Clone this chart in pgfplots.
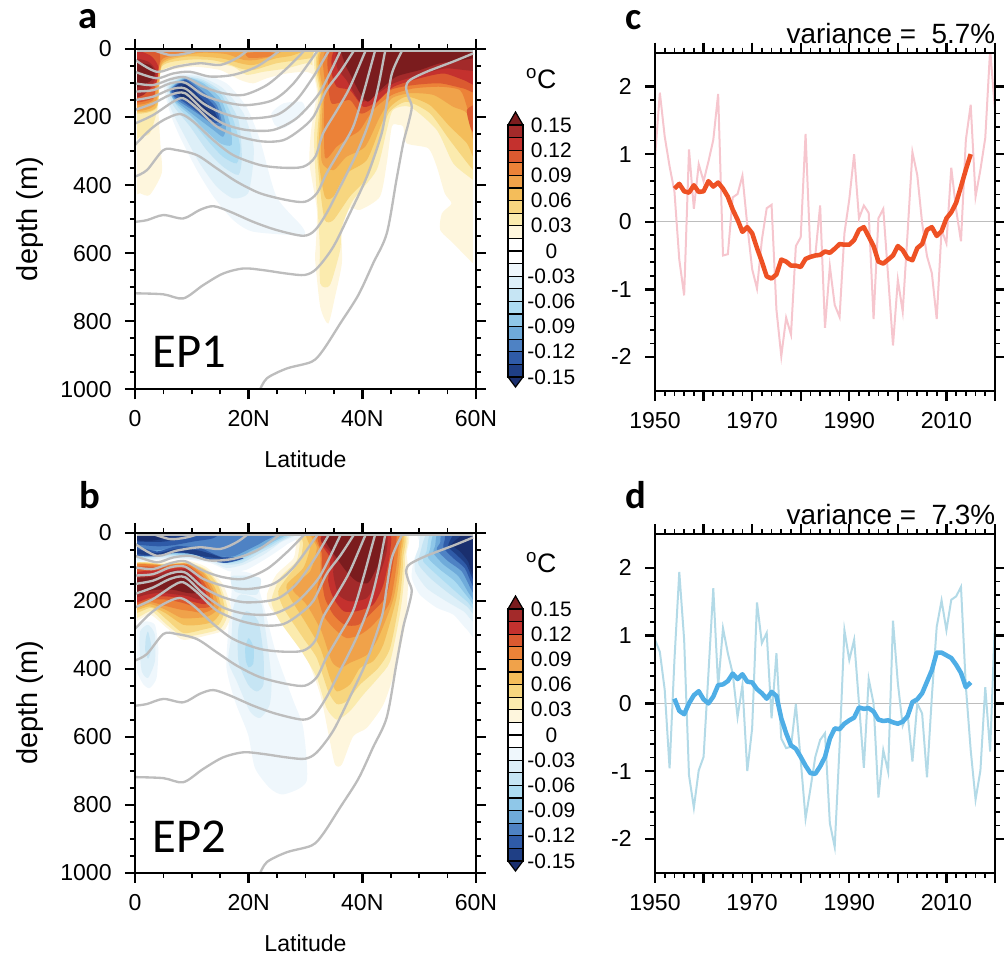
\documentclass[border=0pt]{standalone}
\usepackage{pgfplots}
\pgfplotsset{compat=1.18}
\usepackage{fontspec}
\setmainfont{Liberation Sans}
\newfontfamily\calib{Carlito}
\definecolor{w1}{HTML}{FEF6DD}\definecolor{w2}{HTML}{FBEBAE}\definecolor{w3}{HTML}{F7D67F}\definecolor{w4}{HTML}{F4BD5A}\definecolor{w5}{HTML}{F0A24A}
\definecolor{w6}{HTML}{EC8238}\definecolor{w7}{HTML}{DB5A30}\definecolor{w8}{HTML}{C4312E}\definecolor{w9}{HTML}{A32A2A}\definecolor{w10}{HTML}{7B1C1E}
\definecolor{b1}{HTML}{EFF7FC}\definecolor{b2}{HTML}{DDEFF8}\definecolor{b3}{HTML}{C6E5F4}\definecolor{b4}{HTML}{ADDCF2}\definecolor{b5}{HTML}{8FC7E8}
\definecolor{b6}{HTML}{6FABDA}\definecolor{b7}{HTML}{4E82C4}\definecolor{b8}{HTML}{2F5BA8}\definecolor{b9}{HTML}{1F3F85}\definecolor{b10}{HTML}{1A2F6E}
\definecolor{contourgray}{HTML}{BDBDBD}
\definecolor{pinkline}{HTML}{F6C6CE}\definecolor{redline}{HTML}{EE5124}
\definecolor{paleblue}{HTML}{B3DAE7}\definecolor{blueline}{HTML}{4FAEE6}
\newcommand\fp[2]{\addplot[fill=#1,draw=none,smooth cycle,tension=0.4] coordinates {#2};}
\newcommand\cl[1]{\addplot[contourgray,line width=1.75pt,smooth,tension=0.5] coordinates {#1};}
\newcommand\margins{%
\addplot[fill=white,draw=none] coordinates {(-1,-15)(0.4,-15)(0.4,1010)(-1,1010)} --cycle;
\addplot[fill=white,draw=none] coordinates {(59.5,-15)(61,-15)(61,1010)(59.5,1010)} --cycle;
\addplot[fill=white,draw=none] coordinates {(-1,-15)(61,-15)(61,6)(-1,6)} --cycle;
}
\newcommand\contours{%
\cl{(0.4,5)(59.5,5)}
\cl{(3.2,3)(6.2,18)(9.1,13)(11.1,3)}
\cl{(0,32)(3.8,67)(7.3,52)(11.4,42)(15,47)(17.9,27)(19.9,3)(20.5,-5)}
\cl{(0,67)(3.8,86)(6.7,72)(9.7,67)(13.2,81)(17.3,76)(21.4,52)(25.2,8)(25.8,-5)}
\cl{(0,101)(3.2,106)(6.2,89)(8.8,83)(12,111)(15.5,130)(19.1,135)(23.2,106)(26.7,57)(29.6,8)(30,-5)}
\cl{(0,125)(3.2,121)(6.2,101)(8.8,99)(12,135)(15.5,155)(19.6,165)(24.3,150)(27.9,101)(32,8)(32.5,-5)}
\cl{(0,150)(3.2,140)(6.2,119)(8.8,116)(12,160)(15.5,189)(19.6,204)(24.9,194)(28.4,150)(31.4,81)(34,8)(34.5,-5)}
\cl{(0,179)(3.2,160)(6.2,135)(8.8,130)(12,179)(15.5,219)(19.6,238)(24.3,238)(28.4,204)(32,140)(33.7,91)(36.1,8)(36.5,-5)}
\cl{(0,219)(3.2,194)(6.7,155)(8.5,145)(10.9,174)(14.4,228)(18.5,258)(22.6,272)(26.1,268)(29,238)(31.4,199)(33.7,121)(36.1,67)(38.4,8)(38.8,-5)}
\cl{(0,282)(2.6,238)(5,209)(7.9,191)(10.3,214)(13.8,268)(17.3,312)(22,341)(26.1,349)(29.6,346)(31.7,317)(33.1,248)(35.5,181)(37.8,113)(40.5,8)(41,-5)}
\cl{(0,375)(2.1,356)(5,297)(7.3,297)(10.9,312)(14.4,351)(17.9,390)(22,424)(26.7,444)(29.9,449)(32,424)(33.7,366)(36.1,297)(38.4,228)(40.2,130)(42.2,8)(42.6,-5)}
\cl{(0,508)(2.1,503)(5,488)(8.5,498)(11.4,473)(13.8,462)(16.7,478)(20.8,508)(24.9,532)(29.6,549)(31.7,532)(33.7,483)(36.1,405)(39,307)(41.3,209)(42.8,111)(44,8)(44.4,-5)}
\cl{(0,718)(5,721)(8.5,733)(12,694)(15.5,660)(19.1,645)(22.6,650)(26.7,660)(29.9,664)(32,645)(34.9,581)(37.8,483)(40.8,375)(43.4,248)(44.3,160)(45.2,72)(46.9,8)(47.5,-5)}
\cl{(21.9,1005)(23.2,968)(26.7,939)(31.1,919)(33.1,885)(36.1,807)(39.3,723)(41.9,630)(44.3,542)(46,385)(47.2,277)(48.1,219)(48.7,170)(48.1,140)(47.7,111)(48.4,91)(51.3,67)(56,37)(59.5,13)}
}
\newcommand\cbar{%
\addplot[fill=b10,draw=black,line width=0.9pt] coordinates {(0,-0.15)(1,-0.15)(0.5,-0.162)} --cycle;
\addplot[fill=w10,draw=black,line width=0.9pt] coordinates {(0,0.15)(1,0.15)(0.5,0.1655)} --cycle;
\addplot[fill=b9,draw=black,line width=0.9pt] coordinates {(0,-0.15)(1,-0.15)(1,-0.135)(0,-0.135)} --cycle;
\addplot[fill=b8,draw=black,line width=0.9pt] coordinates {(0,-0.135)(1,-0.135)(1,-0.12)(0,-0.12)} --cycle;
\addplot[fill=b7,draw=black,line width=0.9pt] coordinates {(0,-0.12)(1,-0.12)(1,-0.105)(0,-0.105)} --cycle;
\addplot[fill=b6,draw=black,line width=0.9pt] coordinates {(0,-0.105)(1,-0.105)(1,-0.09)(0,-0.09)} --cycle;
\addplot[fill=b5,draw=black,line width=0.9pt] coordinates {(0,-0.09)(1,-0.09)(1,-0.075)(0,-0.075)} --cycle;
\addplot[fill=b4,draw=black,line width=0.9pt] coordinates {(0,-0.075)(1,-0.075)(1,-0.06)(0,-0.06)} --cycle;
\addplot[fill=b3,draw=black,line width=0.9pt] coordinates {(0,-0.06)(1,-0.06)(1,-0.045)(0,-0.045)} --cycle;
\addplot[fill=b2,draw=black,line width=0.9pt] coordinates {(0,-0.045)(1,-0.045)(1,-0.03)(0,-0.03)} --cycle;
\addplot[fill=b1,draw=black,line width=0.9pt] coordinates {(0,-0.03)(1,-0.03)(1,-0.015)(0,-0.015)} --cycle;
\addplot[fill=white,draw=black,line width=0.9pt] coordinates {(0,-0.015)(1,-0.015)(1,0)(0,0)} --cycle;
\addplot[fill=white,draw=black,line width=0.9pt] coordinates {(0,0)(1,0)(1,0.015)(0,0.015)} --cycle;
\addplot[fill=w1,draw=black,line width=0.9pt] coordinates {(0,0.015)(1,0.015)(1,0.03)(0,0.03)} --cycle;
\addplot[fill=w2,draw=black,line width=0.9pt] coordinates {(0,0.03)(1,0.03)(1,0.045)(0,0.045)} --cycle;
\addplot[fill=w3,draw=black,line width=0.9pt] coordinates {(0,0.045)(1,0.045)(1,0.06)(0,0.06)} --cycle;
\addplot[fill=w4,draw=black,line width=0.9pt] coordinates {(0,0.06)(1,0.06)(1,0.075)(0,0.075)} --cycle;
\addplot[fill=w5,draw=black,line width=0.9pt] coordinates {(0,0.075)(1,0.075)(1,0.09)(0,0.09)} --cycle;
\addplot[fill=w6,draw=black,line width=0.9pt] coordinates {(0,0.09)(1,0.09)(1,0.105)(0,0.105)} --cycle;
\addplot[fill=w7,draw=black,line width=0.9pt] coordinates {(0,0.105)(1,0.105)(1,0.12)(0,0.12)} --cycle;
\addplot[fill=w8,draw=black,line width=0.9pt] coordinates {(0,0.12)(1,0.12)(1,0.135)(0,0.135)} --cycle;
\addplot[fill=w9,draw=black,line width=0.9pt] coordinates {(0,0.135)(1,0.135)(1,0.15)(0,0.15)} --cycle;
}
\pgfplotsset{
 ncl/.style={scale only axis,axis on top,tick align=outside,xtick pos=both,ytick pos=both,
  major tick length=7.5pt,minor tick length=3.75pt,
  minor tick style={black,line width=1.2pt},major tick style={black,line width=1.8pt},
  axis line style={line width=1.8pt},
  tick label style={font=\fontsize{17.3}{18}\selectfont},
  xticklabel style={yshift=-5pt},yticklabel style={xshift=-6.5pt},
  clip=true},
 sect/.style={ncl,width=255.75pt,xmin=0,xmax=60,ymin=0,ymax=1000,y dir=reverse,
  xtick={0,20,40,60},xticklabels={0,20N,40N,60N},minor x tick num=3,
  ytick={0,200,400,600,800,1000},yticklabels={0,200,400,600,800,1000},minor y tick num=3,
  xlabel={Latitude},ylabel={depth (m)},
  xlabel style={font=\fontsize{17.3}{18}\selectfont,yshift=-11pt},
  ylabel style={font=\fontsize{21.7}{22}\selectfont,yshift=6pt}},
 ser/.style={ncl,width=255pt,xmin=1950,xmax=2020,ymin=-2.5,ymax=2.5,
  xtick={1950,1960,1970,1980,1990,2000,2010,2020},xticklabels={1950,,1970,,1990,,2010,,},minor x tick num=4,
  ytick={-2,-1,0,1,2},yticklabels={-2,-1,0,1,2},minor y tick num=4},
 cb/.style={scale only axis,width=11.25pt,height=189pt,xmin=0,xmax=1,ymin=-0.15,ymax=0.15,clip=false,
  xtick=\empty,ytick={-0.15,-0.12,-0.09,-0.06,-0.03,0,0.03,0.06,0.09,0.12,0.15},
  yticklabels={-0.15,-0.12,-0.09,-0.06,-0.03,0,0.03,0.06,0.09,0.12,0.15},yticklabel pos=right,
  major tick length=0pt,axis line style={draw=none},
  yticklabel style={anchor=center,xshift=21.25pt,font=\fontsize{15.7}{16}\selectfont}}
}
\begin{document}
\begin{tikzpicture}
\path[use as bounding box] (0,0) rectangle (753pt,716.25pt);
% ---------- panel a
\begin{axis}[sect,height=255.2pt,at={(101.25pt,424.3pt)},anchor=south west]
\fp{w1}{(-1,-10)(35,-10)(33.7,32)(32.6,81)(30.2,67)(26.7,72)(23.2,86)(20.8,101)(18.5,91)(15,62)(10.3,52)(6.2,62)(4.4,72)(4.1,170)(4.5,287)(4.7,365)(2.6,429)(0.9,424)(-1,405)}
\fp{w2}{(-1,-10)(35,-10)(32.6,52)(30.2,42)(26.7,57)(22.6,67)(19.6,76)(17.3,52)(13.8,42)(9.1,42)(5,60)(3.9,101)(3.9,179)(2.6,248)(0.9,258)(-1,268)}
\fp{w3}{(-1,-10)(34.3,-10)(32,22)(29,32)(24.9,42)(20.8,62)(18.5,57)(16.1,42)(13.2,32)(9.1,32)(4.7,52)(3.8,174)(-1,179)}
\fp{w4}{(-1,-10)(29.6,-10)(27.9,18)(24.9,27)(20.8,47)(18.5,42)(15,27)(9.1,22)(4.7,47)(3.7,172)(-1,174)}
\fp{w5}{(-1,-10)(25.5,-10)(24.6,18)(21.4,32)(19.1,32)(16.1,15)(12,11)(7.9,20)(4.7,42)(3.5,165)(-1,172)}
\fp{w6}{(-1,-10)(11.4,-10)(9.1,8)(5,27)(4.1,62)(3.2,150)(-1,155)}
\fp{w6}{(19.6,12)(23,8)(24.9,14)(23,24)(20,26)}
\fp{w7}{(-1,-10)(3.8,-10)(4.4,32)(3.5,110)(3.2,145)(-1,150)}
\fp{w8}{(-1,8)(2.6,18)(4.1,52)(3.5,106)(-1,145)}
\fp{w9}{(-1,32)(2.3,37)(3.8,67)(3.2,101)(1.5,135)(-1,140)}
\fp{w10}{(-1,42)(2.6,47)(3.5,72)(2.6,96)(-1,116)}
\fp{b1}{(5,101)(7.3,76)(11.4,72)(16.1,101)(19.6,170)(22,268)(24.9,434)(29.4,522)(29.4,547)(20.8,537)(17.3,503)(13.8,434)(10.9,356)(7.9,258)(6.2,189)}
\fp{b1}{(24,189)(26.1,160)(29.3,155)(29.9,179)(28.4,209)(26.1,233)(24.6,223)}
\fp{b2}{(5.6,106)(7.9,79)(11.4,81)(15.5,116)(19.1,189)(20.8,277)(20.8,336)(19.9,424)(17.3,439)(14.4,405)(11.4,336)(8.5,248)(6.2,170)}
\fp{b3}{(5.9,111)(8.5,81)(12,91)(15.5,130)(18.2,209)(18.8,317)(18.2,370)(15.5,346)(12.6,297)(9.7,228)(6.7,165)}
\fp{b4}{(6,116)(8.5,83)(12,96)(15.2,135)(17.3,209)(18.5,287)(17.9,336)(15.5,317)(13.2,277)(10.3,219)(7.3,165)}
\fp{b5}{(6.2,116)(8.8,83)(12,101)(15,145)(16.7,219)(17,282)(15,277)(12.3,238)(9.7,194)(7,155)}
\fp{b6}{(6.2,119)(8.8,86)(12,111)(14.7,155)(16,223)(15.5,258)(13.8,238)(11.1,204)(8.8,174)(6.7,145)}
\fp{b7}{(6.3,119)(8.9,88)(11.7,121)(14.4,165)(15.3,223)(13.8,223)(11.4,194)(8.8,165)(7,145)}
\fp{b8}{(6.5,119)(8.9,91)(11.4,125)(14.1,170)(14.9,214)(13.2,214)(10.9,184)(8.5,155)(7,140)}
\fp{b9}{(6.7,119)(8.9,96)(11.1,135)(13.8,179)(14.5,207)(12.9,204)(10.6,174)(8.5,148)}
\fp{b10}{(7.6,121)(9,106)(10.7,145)(13.2,187)(14.1,201)(12.3,189)(10,162)(8.2,140)}
\fp{w1}{(32.8,-10)(32,130)(31,238)(30.7,336)(32,473)(31.8,581)(31.7,620)(32.6,758)(34,807)(35.2,728)(36.4,630)(36.4,532)(37.8,468)(39.6,473)(43.1,434)(44.3,336)(45.2,228)(46.3,223)(47.2,228)(47.8,277)(51.6,292)(53.1,346)(54.5,424)(55.7,454)(54,483)(53.7,532)(56,571)(59.5,630)(60.5,630)(60.5,-10)}
\fp{w2}{(33.1,-10)(32.3,140)(31.5,258)(32,434)(32.5,571)(32.6,689)(34.3,694)(36.1,591)(36.4,522)(38.4,444)(42.5,356)(44.3,238)(45.4,179)(48.4,170)(53.1,238)(56,336)(59.5,385)(60.5,400)(60.5,-10)}
\fp{w3}{(33.4,-10)(32.6,140)(32,287)(32.6,415)(33.4,503)(34.9,503)(37.8,434)(41,375)(42.8,287)(44.6,189)(47.8,155)(51.9,189)(55.4,268)(59.5,356)(60.5,360)(60.5,-10)}
\fp{w4}{(33.7,-10)(32.8,140)(32.3,317)(33.4,434)(34.9,434)(37.2,366)(40.8,326)(43.4,219)(44.9,170)(47.8,140)(51.9,165)(55.4,228)(58.4,277)(59.5,317)(60.5,320)(60.5,-10)}
\fp{w5}{(34,-10)(33.1,140)(32.8,326)(34.9,356)(37.2,317)(40.5,287)(43.1,199)(45.2,145)(48.4,130)(52.5,135)(56,170)(58.4,189)(59.5,268)(60.5,270)(60.5,-10)}
\fp{w6}{(34.9,-10)(33.4,111)(33.4,317)(35.5,287)(37.8,258)(39.6,238)(41.9,179)(45.2,135)(49,116)(53.7,111)(57.2,121)(58.4,170)(59.5,248)(60.5,250)(60.5,-10)}
\fp{w7}{(35.8,-10)(34,81)(34.6,160)(37.8,150)(39.6,189)(41.3,179)(44.9,121)(49,106)(53.7,101)(57.8,116)(60.5,125)(60.5,-10)}
\fp{w7}{(58.4,179)(60.5,165)(60.5,250)(59.2,238)}
\fp{w8}{(36.7,-10)(34.6,62)(35.5,111)(37.8,121)(40.2,170)(42.5,155)(45.5,111)(50.1,86)(54.3,72)(57.8,91)(60.5,105)(60.5,-10)}
\fp{w9}{(37.2,-10)(35.5,52)(37.2,91)(39.6,155)(41.9,140)(45.5,101)(50.1,76)(54.8,57)(60.5,62)(60.5,-10)}
\fp{w10}{(37.8,-10)(36.7,32)(37.8,72)(39.6,130)(41,155)(43.1,121)(46,81)(50.1,62)(53.7,42)(57.8,32)(60.5,22)(60.5,-10)}
\margins
\contours
\end{axis}
% ---------- panel b
\begin{axis}[sect,height=255pt,at={(101.25pt,61.5pt)},anchor=south west]
\fp{b1}{(17,172)(17,113)(20.8,122)(22,176)(23.2,250)(24.9,358)(27.9,495)(29.6,573)(30.2,730)(26.1,769)(23.7,750)(21.1,691)(19.9,593)(17.6,495)(16.1,397)(16.4,289)}
\fp{b2}{(17.3,220)(18.5,181)(22,201)(22.9,279)(24,426)(23.7,505)(22,544)(20.2,524)(17.9,436)(16.4,377)(17,299)}
\fp{b2}{(17,127)(22,132)(21.4,181)(17.6,172)}
\fp{b3}{(18.2,279)(19.6,230)(21.7,260)(22.6,358)(22.6,446)(21.4,466)(19.9,446)(18.2,377)}
\fp{b4}{(19.4,338)(20,309)(20.9,338)(20.8,385)(20,395)(19.5,375)}
\fp{b1}{(0.3,279)(1.8,260)(3.5,270)(4.1,338)(3.8,426)(2.6,456)(1.5,446)(0.3,407)(-0.5,338)}
\fp{b2}{(0.9,289)(2.3,270)(3.5,299)(3.5,377)(2.3,426)(1.2,407)(0.8,338)}
\fp{b3}{(1.9,310)(2.3,290)(2.9,338)(2.3,370)(1.8,345)}
\fp{w1}{(-1,88)(5,85)(9.1,81)(12.6,101)(15.5,152)(17,230)(15.8,284)(13.2,299)(8.5,314)(5.6,279)(2.6,240)(-1,260)}
\fp{w2}{(-1,92)(5,91)(9.1,86)(12.6,108)(15,157)(16.4,230)(15.2,279)(12.6,294)(8.5,304)(5.6,270)(2.9,230)(0.9,245)(-1,250)}
\fp{w3}{(-1,93)(5,92)(9.1,88)(12.3,108)(14.7,157)(15.8,225)(14.7,270)(12,284)(8.5,294)(5.6,255)(2.9,220)(-1,235)}
\fp{w4}{(-1,95)(5,93)(9.1,90)(12,113)(14.1,162)(15.2,225)(13.8,260)(11.4,270)(8.5,270)(5.3,235)(2.6,216)(-1,225)}
\fp{w5}{(-1,96)(5,95)(9.1,91)(12,118)(13.8,167)(14.7,220)(12.9,245)(10.6,250)(8.2,250)(5.3,225)(2.6,209)(-1,220)}
\fp{w6}{(-1,98)(5,95)(9.1,91)(11.7,122)(13.5,172)(13.8,220)(12,235)(10,230)(7.9,225)(5,213)(2.6,203)(-1,215)}
\fp{w7}{(-1,105)(5,100)(9.1,95)(11.4,127)(13.1,176)(13.2,216)(11.1,220)(8.5,206)(5.6,196)(2.6,196)(-1,211)}
\fp{w8}{(-1,122)(5,108)(9.1,102)(11.1,132)(12.6,181)(12.5,209)(10.3,203)(7.9,191)(5,186)(2.6,191)(-1,206)}
\fp{w9}{(-1,132)(3.2,125)(5.6,113)(9.1,107)(10.9,137)(12,176)(11.4,196)(9.4,186)(7.3,181)(4.4,176)(2.1,181)(-1,191)}
\fp{w10}{(-1,137)(3.8,128)(6.2,118)(9.1,113)(10.6,147)(10.9,176)(9.1,176)(6.7,167)(3.8,167)(-1,176)}
\fp{w1}{(29.3,-10)(47.2,-10)(47.8,64)(48.1,132)(47.5,270)(45.7,407)(43.7,505)(40.8,573)(38.4,598)(36.4,681)(35.2,681)(34.3,613)(32.6,475)(30.2,368)(26.7,279)(23.8,220)(23.2,181)(24.9,122)(27.9,74)(28.4,25)}
\fp{w2}{(29.6,-10)(46.9,-10)(47.5,74)(47.2,162)(46.6,240)(44.9,377)(42.8,426)(40.2,475)(37.8,524)(35.5,549)(33.7,515)(32,426)(29.3,348)(25.5,260)(24,201)(25.5,132)(28.4,83)(29,34)}
\fp{w3}{(30.2,-10)(46.6,-10)(47.2,74)(46.6,191)(44.9,338)(42.8,397)(39.6,446)(37.2,495)(35.5,503)(34,466)(32,368)(29.6,309)(26.1,220)(25.2,172)(26.7,132)(29,83)(29.6,34)}
\fp{w4}{(30.8,-10)(46.3,-10)(46.9,64)(46,191)(43.7,328)(41.9,377)(39.6,397)(37.8,446)(35.5,466)(34.3,426)(32.6,338)(29.9,260)(27.3,191)(26.7,152)(29.6,103)(30.8,44)}
\fp{w5}{(31.4,-10)(46,-10)(46.6,64)(45.5,191)(42.8,309)(40.8,358)(37.8,382)(36.1,397)(34.6,377)(32.8,289)(30.2,211)(27.9,172)(27.9,152)(30.8,113)(32,44)}
\fp{w6}{(32,-10)(45.7,-10)(46.3,54)(44.9,201)(41.9,270)(39.6,299)(37.2,309)(34.9,279)(33.1,240)(32,172)(32.6,122)(32.6,54)}
\fp{w7}{(32.6,-10)(45.2,-10)(45.7,54)(44.3,181)(41.9,230)(39.3,270)(36.9,270)(34.9,240)(33.4,191)(32.9,132)(32.9,64)}
\fp{w8}{(33.5,-10)(44.3,-10)(44.9,54)(43.7,152)(41.9,211)(39,230)(36.7,230)(34.9,191)(34,142)(34.3,74)(32.9,34)}
\fp{w9}{(32.9,10)(38.4,-10)(44,-10)(44.3,54)(42.8,132)(40.8,191)(37.8,201)(35.8,181)(34.9,122)(34.9,69)(33.1,34)}
\fp{w10}{(33.4,15)(37.2,-10)(43.1,-10)(44,44)(42.5,103)(41,147)(39,142)(37.2,113)(35.5,74)}
\fp{b1}{(50.1,-10)(60.5,-10)(60.5,304)(58.4,284)(56,240)(53.1,220)(50.1,181)(48.7,132)(49,83)(50.1,34)}
\fp{b2}{(51,-10)(60.5,-10)(60.5,260)(57.8,230)(54.8,201)(51.3,162)(49.3,113)(49.3,74)(49.9,44)}
\fp{b3}{(52,-10)(60.5,-10)(60.5,240)(58.4,216)(54.8,172)(51.9,132)(49.9,93)(50.1,64)}
\fp{b4}{(52.5,-10)(60.5,-10)(60.5,226)(58.4,201)(55.4,157)(52.8,118)(50.7,83)(51.3,54)}
\fp{b5}{(53.1,-10)(60.5,-10)(60.5,216)(58.7,191)(56.3,142)(53.7,108)(51.6,74)(51.9,49)}
\fp{b6}{(53.7,-10)(60.5,-10)(60.5,206)(58.9,181)(56.9,127)(54.3,93)(52.5,59)(52.8,39)}
\fp{b7}{(54.3,-10)(60.5,-10)(60.5,196)(59.2,167)(57.5,113)(55.1,83)(53.1,49)(53.7,29)}
\fp{b8}{(55.1,-10)(60.5,-10)(60.5,181)(59.2,147)(58,103)(56,74)(54.3,44)(54.5,20)}
\fp{b9}{(56,5)(57,-10)(60.5,-10)(60.5,162)(59.2,127)(58.3,93)(56.6,64)(55.1,39)}
\fp{b10}{(57.2,10)(58,-10)(60.5,-10)(60.5,142)(59.2,113)(58.6,83)(57.2,54)(55.7,34)}
\fp{b1}{(-1,-10)(29.3,-10)(26.7,34)(23.2,74)(19.6,108)(16.7,113)(13.2,88)(9.1,78)(5,78)(-1,83)}
\fp{b2}{(-1,-10)(28.1,-10)(25.5,29)(22.6,64)(19.1,93)(16.1,103)(13.2,83)(9.1,74)(5,74)(-1,78)}
\fp{b3}{(-1,-10)(27.2,-10)(25.2,29)(22,59)(18.8,88)(16.1,93)(13.2,78)(9.1,69)(5,69)(-1,74)}
\fp{b4}{(-1,-10)(26.7,-10)(24.6,29)(21.7,54)(18.5,83)(16.1,88)(13.2,74)(9.1,66)(5,64)(-1,69)}
\fp{b5}{(-1,-10)(26.1,-10)(24,29)(21.4,49)(18.2,78)(16.1,83)(13.2,72)(9.1,64)(5,62)(-1,66)}
\fp{b6}{(-1,-10)(25.2,-10)(23.5,29)(20.8,49)(17.9,74)(15.5,78)(12.6,69)(9.1,59)(5,56)(-1,62)}
\fp{b7}{(-1,-10)(24.6,-10)(22.6,25)(19.9,49)(17.3,69)(15,69)(12,64)(9.1,52)(5,49)(-1,56)}
\fp{b8}{(-1,-10)(14.7,-10)(13.8,15)(10.3,25)(6.7,36)(3.8,39)(-1,29)}
\fp{b8}{(-1,34)(3.8,54)(7.3,39)(11.4,44)(15,69)(19.1,74)(16.1,88)(13.2,81)(10.3,62)(6.7,59)(3.8,69)(-1,64)}
\fp{b9}{(-1,-10)(9,-10)(7.9,17)(4.4,26)(-1,22)}
\fp{b9}{(-1,44)(3.8,59)(7.3,47)(11.4,52)(15.5,75)(12,69)(7.9,56)(3.8,66)(-1,59)}
\fp{b10}{(-1,5)(6.2,10)(3.2,22)(-1,20)}
\margins
\contours
\end{axis}
% ---------- colour bars
\begin{axis}[cb,at={(381pt,433.5pt)},anchor=south west]
\cbar
\end{axis}
\begin{axis}[cb,at={(381pt,70.5pt)},anchor=south west]
\cbar
\end{axis}
% ---------- panel c
\begin{axis}[ser,height=253.5pt,at={(491.25pt,423.2pt)},anchor=south west]
\addplot[contourgray,line width=1pt] coordinates {(1950,0)(2020,0)};
\addplot[pinkline,line width=1.5pt] coordinates {(1950,0.95)(1951,1.91)(1952,1.26)(1953,0.82)(1954,0.45)(1955,-0.56)(1956,-1.09)(1957,1.07)(1958,0.19)(1959,0.85)(1960,0.6)(1961,0.89)(1962,1.21)(1963,1.89)(1964,-0.5)(1965,-0.48)(1966,0.36)(1967,0.41)(1968,0.68)(1969,-0.05)(1970,-0.7)(1971,-0.99)(1972,-0.27)(1973,0.2)(1974,0.25)(1975,-1.3)(1976,-1.99)(1977,-1.42)(1978,-1.67)(1979,-0.36)(1980,-0.23)(1981,1.3)(1982,-0.49)(1983,-0.5)(1984,0.24)(1985,-1.57)(1986,-0.66)(1987,-1.23)(1988,-1.41)(1989,-0.17)(1990,0.33)(1991,1.0)(1992,0.05)(1993,0.24)(1994,0.13)(1995,-1.44)(1996,0.05)(1997,0.19)(1998,-0.81)(1999,-1.83)(2000,-0.86)(2001,-1.33)(2002,-0.17)(2003,1.03)(2004,0.69)(2005,-0.02)(2006,-0.51)(2007,-0.76)(2008,-1.44)(2009,-0.12)(2010,-0.32)(2011,0.8)(2012,0.18)(2013,-0.29)(2014,1.21)(2015,1.73)(2016,0.37)(2017,0.77)(2018,1.24)(2019,2.55)(2020,1.65)};
\addplot[redline,line width=3.4pt,line join=round] coordinates {(1954,0.49)(1955,0.56)(1956,0.45)(1957,0.43)(1958,0.54)(1959,0.44)(1960,0.45)(1961,0.6)(1962,0.52)(1963,0.58)(1964,0.49)(1965,0.37)(1966,0.18)(1967,0.03)(1968,-0.15)(1969,-0.08)(1970,-0.17)(1971,-0.39)(1972,-0.59)(1973,-0.81)(1974,-0.84)(1975,-0.78)(1976,-0.56)(1977,-0.59)(1978,-0.65)(1979,-0.65)(1980,-0.67)(1981,-0.55)(1982,-0.52)(1983,-0.5)(1984,-0.49)(1985,-0.44)(1986,-0.46)(1987,-0.4)(1988,-0.33)(1989,-0.34)(1990,-0.34)(1991,-0.27)(1992,-0.12)(1993,-0.08)(1994,-0.22)(1995,-0.36)(1996,-0.59)(1997,-0.62)(1998,-0.56)(1999,-0.5)(2000,-0.36)(2001,-0.42)(2002,-0.54)(2003,-0.57)(2004,-0.39)(2005,-0.33)(2006,-0.12)(2007,-0.08)(2008,-0.21)(2009,-0.14)(2010,0.05)(2011,0.14)(2012,0.28)(2013,0.52)(2014,0.77)(2015,1.0)};
\end{axis}
% ---------- panel d
\begin{axis}[ser,height=254pt,at={(491.25pt,61.7pt)},anchor=south west]
\addplot[contourgray,line width=1pt] coordinates {(1950,0)(2020,0)};
\addplot[paleblue,line width=1.5pt] coordinates {(1950,0.94)(1951,0.76)(1952,0.2)(1953,-0.96)(1954,0.64)(1955,1.94)(1956,0.94)(1957,-1.06)(1958,-1.54)(1959,-0.99)(1960,-0.79)(1961,0.44)(1962,1.7)(1963,0.25)(1964,1.11)(1965,0.74)(1966,0.44)(1967,-0.2)(1968,0.27)(1969,-1.0)(1970,-0.37)(1971,1.49)(1972,0.89)(1973,1.04)(1974,-0.22)(1975,0.74)(1976,-0.52)(1977,-0.66)(1978,-0.64)(1979,-0.01)(1980,-0.84)(1981,-1.7)(1982,-1.26)(1983,-0.79)(1984,-0.54)(1985,-0.44)(1986,-1.77)(1987,-2.12)(1988,-0.64)(1989,1.08)(1990,0.64)(1991,0.94)(1992,0)(1993,-0.95)(1994,0.36)(1995,0)(1996,-1.39)(1997,-0.69)(1998,-1.01)(1999,1.22)(2000,0.3)(2001,-0.33)(2002,-0.15)(2003,-0.86)(2004,0)(2005,-0.15)(2006,-1.09)(2007,0.1)(2008,1.13)(2009,1.52)(2010,1.08)(2011,1.53)(2012,1.58)(2013,1.72)(2014,0.25)(2015,-0.69)(2016,-1.42)(2017,-0.99)(2018,0.24)(2019,-0.71)(2020,1.23)};
\addplot[blueline,line width=3.4pt,line join=round] coordinates {(1954,0.07)(1955,-0.11)(1956,-0.16)(1957,0)(1958,0.12)(1959,0.18)(1960,0.06)(1961,0)(1962,0.1)(1963,0.27)(1964,0.28)(1965,0.33)(1966,0.44)(1967,0.36)(1968,0.43)(1969,0.32)(1970,0.31)(1971,0.21)(1972,0.15)(1973,0.07)(1974,0.17)(1975,0.11)(1976,-0.22)(1977,-0.44)(1978,-0.62)(1979,-0.67)(1980,-0.79)(1981,-0.92)(1982,-1.03)(1983,-1.04)(1984,-0.93)(1985,-0.79)(1986,-0.52)(1987,-0.37)(1988,-0.38)(1989,-0.3)(1990,-0.25)(1991,-0.21)(1992,-0.06)(1993,-0.08)(1994,-0.07)(1995,-0.12)(1996,-0.24)(1997,-0.26)(1998,-0.25)(1999,-0.28)(2000,-0.3)(2001,-0.27)(2002,-0.19)(2003,0.02)(2004,0.06)(2005,0.15)(2006,0.32)(2007,0.49)(2008,0.75)(2009,0.75)(2010,0.71)(2011,0.67)(2012,0.57)(2013,0.45)(2014,0.24)(2015,0.31)};
\end{axis}
% ---------- texts
\node[font=\calib\bfseries\fontsize{29}{29}\selectfont] at (66pt,702pt) {a};
\node[font=\calib\bfseries\fontsize{29}{29}\selectfont] at (67.5pt,345pt) {b};
\node[font=\calib\bfseries\fontsize{29}{29}\selectfont] at (475.5pt,701pt) {c};
\node[font=\calib\bfseries\fontsize{29}{29}\selectfont] at (477pt,345pt) {d};
\node[font=\calib\fontsize{36.5}{36}\selectfont,anchor=west,inner sep=0pt] at (114pt,452pt) {EP1};
\node[font=\calib\fontsize{36.5}{36}\selectfont,anchor=west,inner sep=0pt] at (114pt,89pt) {EP2};
\node[font=\fontsize{20.9}{21}\selectfont,anchor=east,inner sep=0pt] at (746.5pt,691.2pt) {variance =\ \ 5.7\%};
\node[font=\fontsize{20.9}{21}\selectfont,anchor=east,inner sep=0pt] at (746.5pt,330.5pt) {variance =\ \ 7.3\%};
\node[font=\fontsize{20}{20}\selectfont,inner sep=0pt] at (406pt,657pt) {$^{\mathrm{o}}$C};
\node[font=\fontsize{20}{20}\selectfont,inner sep=0pt] at (406pt,294pt) {$^{\mathrm{o}}$C};
\end{tikzpicture}
\end{document}
